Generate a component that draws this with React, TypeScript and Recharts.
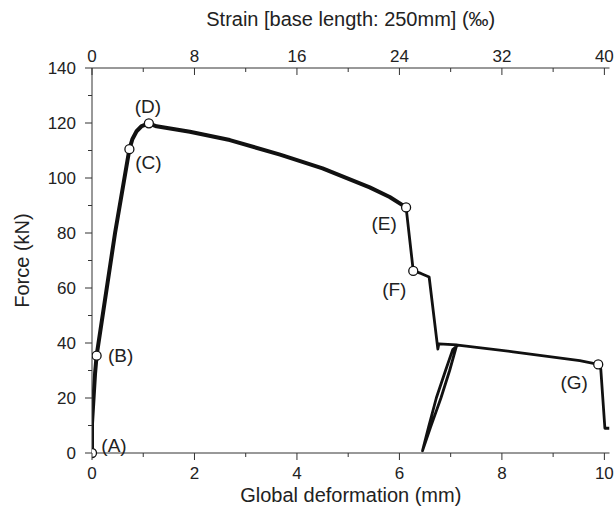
import React from "react";
import { ComposedChart, Line, XAxis, YAxis, LabelList } from "recharts";

const FONT = "'Liberation Sans', Arial, Helvetica, sans-serif";
const INK = "#111";
const AXIS = "#333";
const TEXT = "#222";

const forceTicks = [0, 10, 20, 30, 40, 50, 60, 70, 80, 90, 100, 110, 120, 130, 140];
const deformationTicks = [0, 1, 2, 3, 4, 5, 6, 7, 8, 9, 10];
const strainTicks = [0, 4, 8, 12, 16, 20, 24, 28, 32, 36, 40];

// A -> E, the heavy part of the trace (mm, kN)
const loadingBranch = [
  { x: 0, f: 0 },
  { x: 0.0, f: 10.8 },
  { x: 0.06, f: 29 },
  { x: 0.09, f: 35.4 },
  { x: 0.45, f: 80 },
  { x: 0.73, f: 110.5 },
  { x: 0.79, f: 114.2 },
  { x: 0.87, f: 117.0 },
  { x: 0.97, f: 118.9 },
  { x: 1.11, f: 119.9 },
  { x: 1.26, f: 118.8 },
  { x: 1.91, f: 116.8 },
  { x: 2.69, f: 113.8 },
  { x: 3.67, f: 108.5 },
  { x: 4.5, f: 103.5 },
  { x: 5.42, f: 96.6 },
  { x: 5.81, f: 93.1 },
  { x: 6.13, f: 89.3 },
];

// E -> end, incl. the unload/reload loop
const softeningBranch = [
  { x: 6.13, f: 89.3 },
  { x: 6.27, f: 66.2 },
  { x: 6.42, f: 65.3 },
  { x: 6.58, f: 64.0 },
  { x: 6.75, f: 37.8 },
  { x: 6.77, f: 39.7 },
  { x: 7.12, f: 39.3 },
  { x: 6.98, f: 30 },
  { x: 6.81, f: 20 },
  { x: 6.61, f: 9.5 },
  { x: 6.45, f: 0.8 },
  { x: 6.57, f: 9.5 },
  { x: 6.72, f: 20 },
  { x: 6.9, f: 30 },
  { x: 7.04, f: 37.6 },
  { x: 7.14, f: 39.2 },
  { x: 8.22, f: 36.8 },
  { x: 9.52, f: 33.6 },
  { x: 9.88, f: 32.2 },
  { x: 9.93, f: 30.5 },
  { x: 10.01, f: 9.0 },
  { x: 10.1, f: 9.0 },
];

const markers = [
  { x: 0, f: 0, name: "(A)" },
  { x: 0.09, f: 35.4, name: "(B)" },
  { x: 0.73, f: 110.5, name: "(C)" },
  { x: 1.11, f: 119.9, name: "(D)" },
  { x: 6.13, f: 89.3, name: "(E)" },
  { x: 6.27, f: 66.2, name: "(F)" },
  { x: 9.88, f: 32.2, name: "(G)" },
];

// where each point name sits relative to its circle (px)
const labelOffset: Record<string, [number, number]> = {
  "(A)": [22, -8],
  "(B)": [24, 0],
  "(C)": [19, 13],
  "(D)": [-1, -17],
  "(E)": [-22, 16],
  "(F)": [-19, 18],
  "(G)": [-24, 18],
};

// strain axis only needs its range; nothing visible is drawn on it
const strainRange = strainTicks.map((s) => ({ s, f: 0 }));

const txt = { fontFamily: FONT, fontSize: 17, fill: TEXT };

const ForceTick = (props: any) => {
  const { x, y, payload } = props;
  const major = payload.value % 20 === 0;
  return (
    <g>
      <line x1={x} x2={x - (major ? 7 : 4)} y1={y} y2={y} stroke={AXIS} />
      {major && (
        <text x={x - 16} y={y} dy="0.36em" textAnchor="end" {...txt}>
          {payload.value}
        </text>
      )}
    </g>
  );
};

const DeformTick = (props: any) => {
  const { x, y, payload } = props;
  const major = payload.value % 2 === 0;
  return (
    <g>
      <line x1={x} x2={x} y1={y} y2={y + (major ? 7 : 4)} stroke={AXIS} />
      {major && (
        <text x={x} y={y + 26} textAnchor="middle" {...txt}>
          {payload.value}
        </text>
      )}
    </g>
  );
};

const StrainTick = (props: any) => {
  const { x, y, payload } = props;
  const major = payload.value % 8 === 0;
  return (
    <g>
      <line x1={x} x2={x} y1={y} y2={y + (major ? 7 : 4)} stroke={AXIS} />
      {major && (
        <text x={x} y={y - 6} textAnchor="middle" {...txt}>
          {payload.value}
        </text>
      )}
    </g>
  );
};

const PointName = (props: any) => {
  const { x, y, value } = props;
  const [dx, dy] = labelOffset[value] || [0, 0];
  return (
    <text x={x + dx} y={y + dy} dy="0.36em" textAnchor="middle" fontFamily={FONT} fontSize={19} fill={TEXT}>
      {value}
    </text>
  );
};

export default function App() {
  return (
    <div style={{ position: "absolute", left: 0, top: 0, width: 614, height: 513, background: "#fff" }}>
      <ComposedChart width={614} height={513} margin={{ top: 0, right: 4.5, bottom: 0, left: 0 }}>
        <XAxis
          xAxisId="mm"
          dataKey="x"
          type="number"
          domain={[0, 10.1]}
          allowDataOverflow
          ticks={deformationTicks}
          interval={0}
          height={60}
          tickSize={0}
          tickMargin={0}
          tickLine={false}
          tick={<DeformTick />}
          axisLine={{ stroke: AXIS }}
          label={{
            value: "Global deformation (mm)",
            position: "insideBottom",
            offset: 11,
            style: { fontFamily: FONT, fontSize: 20, fill: TEXT },
          }}
        />
        <XAxis
          xAxisId="strain"
          dataKey="s"
          orientation="top"
          type="number"
          domain={[0, 40.4]}
          allowDataOverflow
          ticks={strainTicks}
          interval={0}
          height={68}
          tickSize={0}
          tickMargin={0}
          tickLine={false}
          tick={<StrainTick />}
          axisLine={{ stroke: AXIS }}
          label={{
            value: "Strain [base length: 250mm] (\u2030)",
            position: "insideTop",
            offset: 12,
            style: { fontFamily: FONT, fontSize: 20, fill: TEXT },
          }}
        />
        <YAxis
          yAxisId="kN"
          type="number"
          domain={[0, 140]}
          ticks={forceTicks}
          interval={0}
          width={92}
          tickSize={0}
          tickMargin={0}
          tickLine={false}
          tick={<ForceTick />}
          axisLine={{ stroke: AXIS }}
          label={{
            content: (p: any) => {
              const vb = p.viewBox || { x: 0, y: 68, height: 385 };
              const cx = vb.x + 22;
              const cy = vb.y + vb.height / 2;
              return (
                <text
                  x={cx}
                  y={cy}
                  transform={`rotate(-90, ${cx}, ${cy})`}
                  textAnchor="middle"
                  dy="0.36em"
                  fontFamily={FONT}
                  fontSize={20}
                  fill={TEXT}
                >
                  Force (kN)
                </text>
              );
            },
          }}
        />
        <Line
          xAxisId="strain"
          yAxisId="kN"
          data={strainRange}
          dataKey="f"
          stroke="none"
          dot={false}
          activeDot={false}
          isAnimationActive={false}
        />
        <Line
          xAxisId="mm"
          yAxisId="kN"
          data={loadingBranch}
          dataKey="f"
          type="linear"
          stroke={INK}
          strokeWidth={4}
          strokeLinejoin="round"
          strokeLinecap="round"
          dot={false}
          activeDot={false}
          isAnimationActive={false}
        />
        <Line
          xAxisId="mm"
          yAxisId="kN"
          data={softeningBranch}
          dataKey="f"
          type="linear"
          stroke={INK}
          strokeWidth={2.8}
          strokeLinejoin="round"
          dot={false}
          activeDot={false}
          isAnimationActive={false}
        />
        <Line
          xAxisId="mm"
          yAxisId="kN"
          data={markers}
          dataKey="f"
          stroke="none"
          dot={{ r: 4.5, fill: "#fff", stroke: INK, strokeWidth: 1.3 }}
          activeDot={false}
          isAnimationActive={false}
        >
          <LabelList dataKey="name" content={<PointName />} />
        </Line>
      </ComposedChart>
    </div>
  );
}
